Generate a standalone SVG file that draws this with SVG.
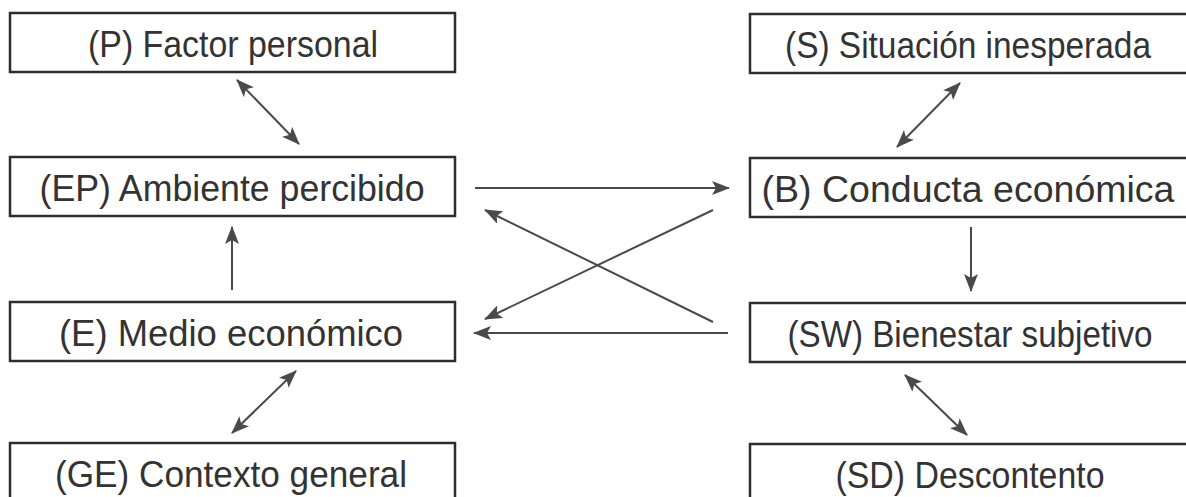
<svg xmlns="http://www.w3.org/2000/svg" width="1186" height="497" viewBox="0 0 1186 497">
<style>
.box{fill:#fff;stroke:#2e2e2e;stroke-width:2.5}
.lbl{font-family:"Liberation Sans",Arial,sans-serif;font-size:36px;fill:#333;text-anchor:middle}
.con{stroke:#4a4a4a;stroke-width:2;fill:none}
</style>
<defs>
<marker id="ah" viewBox="0 0 18 14" refX="17" refY="7" markerWidth="18" markerHeight="14" markerUnits="userSpaceOnUse" orient="auto-start-reverse">
<path d="M0,0 L18,7 L0,14 L4,7 z" fill="#4a4a4a"/>
</marker>
</defs>
<rect width="1186" height="497" fill="#fff"/>
<g id="P"><rect class="box" x="10" y="13" width="445" height="59"/><text class="lbl" x="233" y="57" textLength="290" lengthAdjust="spacingAndGlyphs">(P) Factor personal</text></g>
<g id="EP"><rect class="box" x="10" y="157" width="445" height="59"/><text class="lbl" x="232" y="201" textLength="385" lengthAdjust="spacingAndGlyphs">(EP) Ambiente percibido</text></g>
<g id="E"><rect class="box" x="10" y="302" width="445" height="59"/><text class="lbl" x="231" y="346" textLength="344" lengthAdjust="spacingAndGlyphs">(E) Medio económico</text></g>
<g id="GE"><rect class="box" x="10" y="443" width="445" height="70"/><text class="lbl" x="231" y="487" textLength="352" lengthAdjust="spacingAndGlyphs">(GE) Contexto general</text></g>
<g id="S"><rect class="box" x="750" y="14" width="450" height="59"/><text class="lbl" x="968" y="58" textLength="366" lengthAdjust="spacingAndGlyphs">(S) Situación inesperada</text></g>
<g id="B"><rect class="box" x="750" y="158" width="450" height="59"/><text class="lbl" x="968" y="202" textLength="413" lengthAdjust="spacingAndGlyphs">(B) Conducta económica</text></g>
<g id="SW"><rect class="box" x="750" y="303" width="450" height="59"/><text class="lbl" x="970" y="347" textLength="365" lengthAdjust="spacingAndGlyphs">(SW) Bienestar subjetivo</text></g>
<g id="SD"><rect class="box" x="750" y="444" width="450" height="70"/><text class="lbl" x="970" y="488" textLength="269" lengthAdjust="spacingAndGlyphs">(SD) Descontento</text></g>
<g id="connectors">
<line class="con" x1="237" y1="80" x2="299" y2="144" marker-start="url(#ah)" marker-end="url(#ah)"/>
<line class="con" x1="960" y1="83" x2="897" y2="147" marker-start="url(#ah)" marker-end="url(#ah)"/>
<line class="con" x1="475" y1="188" x2="729" y2="188" marker-end="url(#ah)"/>
<line class="con" x1="713" y1="210" x2="485" y2="319" marker-end="url(#ah)"/>
<line class="con" x1="713" y1="322" x2="485" y2="210" marker-end="url(#ah)"/>
<line class="con" x1="728" y1="333" x2="474" y2="333" marker-end="url(#ah)"/>
<line class="con" x1="971" y1="227" x2="971" y2="291" marker-end="url(#ah)"/>
<line class="con" x1="232" y1="290" x2="232" y2="227" marker-end="url(#ah)"/>
<line class="con" x1="296" y1="371" x2="232" y2="433" marker-start="url(#ah)" marker-end="url(#ah)"/>
<line class="con" x1="905" y1="375" x2="967" y2="435" marker-start="url(#ah)" marker-end="url(#ah)"/>
</g>
</svg>
